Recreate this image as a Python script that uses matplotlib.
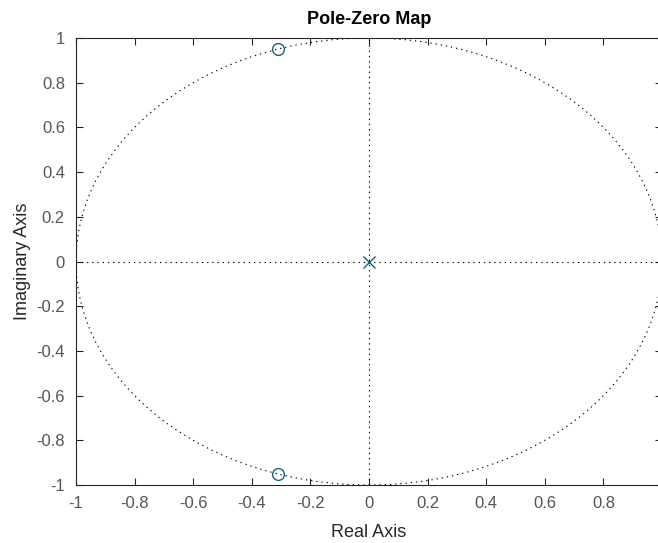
import numpy as np
import matplotlib
matplotlib.use('Agg')
import matplotlib.pyplot as plt
from matplotlib.patches import Circle

plt.rcParams['font.family'] = ['Liberation Sans', 'DejaVu Sans']

# system zeros and poles
zero_re = [-0.31, -0.31]
zero_im = [0.95, -0.95]
pole_re = [0.0]
pole_im = [0.0]

tick_vals = [-1, -0.8, -0.6, -0.4, -0.2, 0, 0.2, 0.4, 0.6, 0.8, 1]
tick_text = ['-1', '-0.8', '-0.6', '-0.4', '-0.2', '0', '0.2', '0.4', '0.6', '0.8', '1']

pz_color = '#1f5f7a'
axis_gray = '#262626'
dotted = (0, (1.2, 3.5))

fig = plt.figure(figsize=(6.58, 5.43), dpi=100)
ax = fig.add_axes([0.1155, 0.1068, 0.8906, 0.8232])

# unit circle and real/imag axes, dotted like pzmap
ax.add_patch(Circle((0, 0), 1, fill=False, ls=dotted, lw=0.8, color='black'))
ax.axhline(0, ls=dotted, lw=0.8, color='black')
ax.axvline(0, ls=dotted, lw=0.8, color='black')

ax.plot(zero_re, zero_im, 'o', ms=8.5, mfc='none', mec=pz_color, mew=1.0, ls='none')
ax.plot(pole_re, pole_im, 'x', ms=8, mec=pz_color, mew=1.0, ls='none')

ax.set_xlim(-1, 1)
ax.set_ylim(-1, 1)
ax.set_xticks(tick_vals)
ax.set_xticklabels(tick_text)
ax.set_yticks(tick_vals)
ax.set_yticklabels(tick_text)
ax.tick_params(direction='in', length=5, width=0.8, colors=axis_gray,
               labelcolor='#555555', labelsize=12, top=True, right=True, pad=8)
for sp in ax.spines.values():
    sp.set_color(axis_gray)
    sp.set_linewidth(0.8)

ax.set_xlabel('Real Axis', fontsize=13, color=axis_gray, labelpad=9)
ax.set_ylabel('Imaginary Axis', fontsize=13, color=axis_gray, labelpad=4)
ax.set_title('Pole-Zero Map', fontsize=13, fontweight='bold', color='black', pad=10)

fig.savefig('out.png', dpi=100)
